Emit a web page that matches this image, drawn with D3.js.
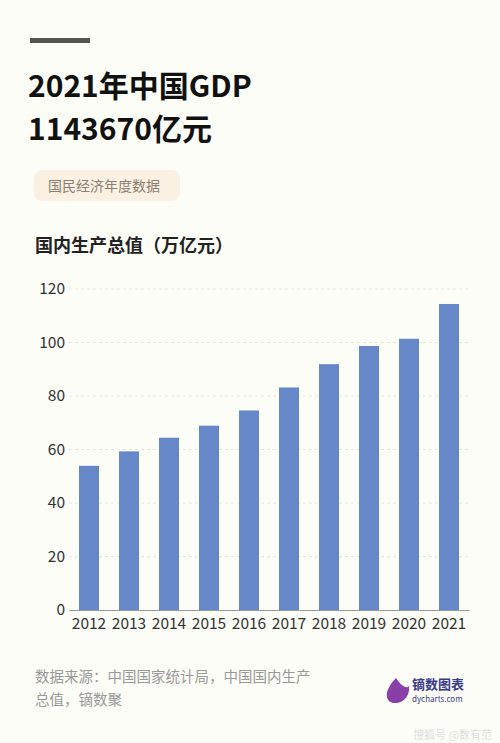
<!DOCTYPE html>
<html><head><meta charset="utf-8">
<script src="https://cdn.jsdelivr.net/npm/d3@7/dist/d3.min.js"></script>
<style>body{margin:0;background:#fdfdf8}svg{display:block}text{font-family:"Noto Sans CJK SC","Noto Sans",sans-serif}</style>
</head><body>
<script>
const years=["2012","2013","2014","2015","2016","2017","2018","2019","2020","2021"];
const gdp=[53.9,59.3,64.4,68.9,74.6,83.2,91.9,98.7,101.4,114.4];
const yTicks=[0,20,40,60,80,100,120];

const svg=d3.select("body").append("svg").attr("width",500).attr("height",743);
svg.append("rect").attr("width",500).attr("height",743).attr("fill","#fdfdf8");
svg.append("rect").attr("x",30).attr("y",38).attr("width",60).attr("height",5).attr("fill","#555");
svg.append("text").attr("x",28).attr("y",97).attr("font-size",30).attr("font-weight","bold").attr("fill","#111").text("2021年中国GDP");
svg.append("text").attr("x",28).attr("y",140).attr("font-size",30).attr("font-weight","bold").attr("fill","#111").text("1143670亿元");
svg.append("rect").attr("x",34).attr("y",170).attr("width",146).attr("height",31).attr("rx",8).attr("fill","#fbf1e3");
svg.append("text").attr("x",48).attr("y",191).attr("font-size",14).attr("fill","#8a7f74").text("国民经济年度数据");
svg.append("text").attr("x",35).attr("y",252).attr("font-size",18).attr("font-weight","bold").attr("fill","#222").text("国内生产总值（万亿元）");

const x=d3.scaleBand().domain(years).range([69,469]).paddingInner(0.5).paddingOuter(0.25);
const y=d3.scaleLinear().domain([0,120]).range([610,289]);
const g=svg.append("g");
g.selectAll(".grid").data(yTicks.slice(1)).join("line").attr("x1",69).attr("x2",469)
 .attr("y1",d=>y(d)).attr("y2",d=>y(d)).attr("stroke","#e6e6e0").attr("stroke-dasharray","3,3");
g.selectAll(".bar").data(gdp).join("rect").attr("x",(d,i)=>x(years[i])).attr("width",x.bandwidth())
 .attr("y",d=>y(d)).attr("height",d=>610-y(d)).attr("fill","#6687c8");
const ya=svg.append("g").attr("transform","translate(65,0)").call(d3.axisLeft(y).tickValues(yTicks).tickSize(0).tickPadding(0));
ya.select(".domain").remove();
ya.selectAll("text").attr("font-size",15.5).attr("fill","#333");
const xa=svg.append("g").attr("transform","translate(0,610)").call(d3.axisBottom(x).tickSize(0).tickPadding(8));
xa.select(".domain").attr("stroke","#999");
xa.selectAll("text").attr("font-size",15.5).attr("fill","#333");

svg.append("text").attr("x",35).attr("y",682).attr("font-size",14.5).attr("fill","#999").text("数据来源：中国国家统计局，中国国内生产");
svg.append("text").attr("x",35).attr("y",705).attr("font-size",14.5).attr("fill","#999").text("总值，镝数聚");
svg.append("path").attr("d","M396,678 C386,688 383,700 393,703 C405,704 410,694 409,686 C406,690 400,684 396,678Z").attr("fill","#8a3fa8");
svg.append("text").attr("x",412).attr("y",689).attr("font-size",13).attr("font-weight","bold").attr("fill","#3a3a8a").text("镝数图表");
svg.append("text").attr("x",412).attr("y",702).attr("font-size",8).attr("fill","#3a3a8a").text("dycharts.com");
svg.append("text").attr("x",492).attr("y",739).attr("text-anchor","end").attr("font-size",11).attr("fill","#ddd").text("搜狐号 @数有范");
</script></body></html>
